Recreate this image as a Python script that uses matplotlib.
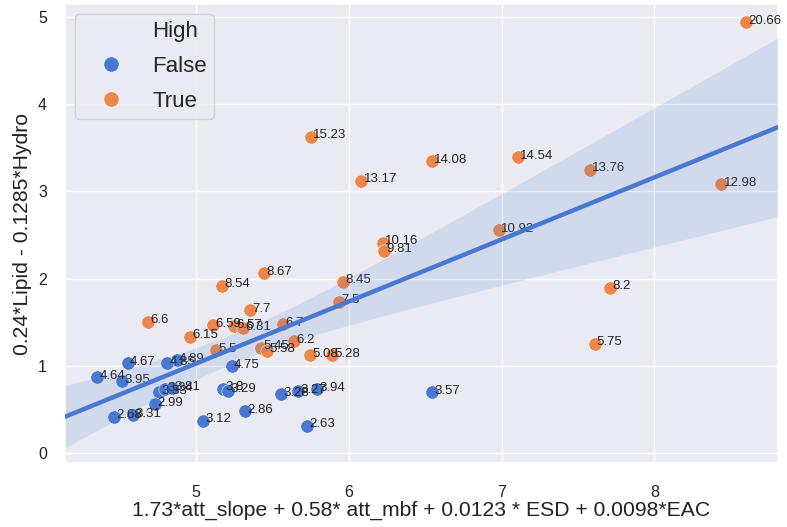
import numpy as np
import matplotlib
matplotlib.use("Agg")
import matplotlib.pyplot as plt
from matplotlib.lines import Line2D
import seaborn as sns

# Composite scores per sample, with the score value printed next to each point
x_true = [8.60, 5.75, 6.544, 7.107, 7.576, 8.438, 6.081, 6.982, 6.222, 6.231,
          7.709, 7.609, 5.443, 5.172, 5.354, 4.688, 5.109, 5.249, 5.310, 4.961,
          5.572, 5.961, 5.939, 5.129, 5.426, 5.463, 5.642, 5.747, 5.889]
y_true = [4.94, 3.63, 3.345, 3.394, 3.249, 3.081, 3.123, 2.557, 2.412, 2.320,
          1.896, 1.254, 2.060, 1.920, 1.640, 1.506, 1.468, 1.456, 1.430, 1.334,
          1.476, 1.965, 1.735, 1.181, 1.208, 1.173, 1.284, 1.124, 1.124]
lab_true = ["20.66", "15.23", "14.08", "14.54", "13.76", "12.98", "13.17", "10.92",
            "10.16", "9.81", "8.2", "5.75", "8.67", "8.54", "7.7", "6.6", "6.59",
            "6.57", "6.31", "6.15", "6.7", "8.45", "7.5", "5.5", "5.45", "5.58",
            "6.2", "5.08", "5.28"]

x_false = [6.546, 5.234, 4.553, 4.874, 4.812, 4.354, 4.517, 4.758, 4.797, 4.843,
           4.731, 4.465, 4.589, 5.048, 5.321, 5.175, 5.207, 5.557, 5.670, 5.790,
           5.725]
y_false = [0.700, 0.998, 1.028, 1.067, 1.028, 0.868, 0.826, 0.700, 0.734, 0.745,
           0.562, 0.416, 0.436, 0.370, 0.482, 0.737, 0.714, 0.673, 0.711, 0.734,
           0.313]
lab_false = ["3.57", "4.75", "4.67", "4.89", "4.85", "4.64", "3.95", "3.33", "3.34",
             "3.81", "2.99", "2.68", "3.31", "3.12", "2.86", "3.8", "3.29", "3.28",
             "3.27", "3.94", "2.63"]

x_label = "1.73*att_slope + 0.58* att_mbf + 0.0123 * ESD + 0.0098*EAC"
y_label = "0.24*Lipid - 0.1285*Hydro"
legend_title = "High"
legend_names = ["False", "True"]

sns.set_theme(style="darkgrid")
plt.rcParams["font.family"] = ["Liberation Sans", "DejaVu Sans"]

blue = "#4878d0"
orange = "#ee854a"

fig = plt.figure(figsize=(7.87, 5.27), dpi=100)
ax = fig.add_axes([0.0826, 0.1214, 0.906, 0.8710])

ax.scatter(x_false, y_false, s=92, color=blue, edgecolor="white", linewidth=0.4, zorder=2)
ax.scatter(x_true, y_true, s=92, color=orange, edgecolor="white", linewidth=0.4, zorder=2)

for xs, ys, labs in ((x_false, y_false, lab_false), (x_true, y_true, lab_true)):
    for xv, yv, t in zip(xs, ys, labs):
        ax.text(xv + 0.015, yv - 0.02, t, fontsize=9.5, color="#222222",
                ha="left", va="baseline", zorder=3)

xmin, xmax = 4.142, 8.81
ymin, ymax = -0.115, 5.15

# Least-squares fit over all samples, 95% band from a robust (HC3) covariance
xa = np.array(x_false + x_true)
ya = np.array(y_false + y_true)
X = np.column_stack([np.ones_like(xa), xa])
xtx_inv = np.linalg.inv(X.T @ X)
beta = xtx_inv @ X.T @ ya
resid = ya - X @ beta
lev = np.sum((X @ xtx_inv) * X, axis=1)
meat = X.T @ (X * (resid ** 2 / (1 - lev) ** 2)[:, None])
cov = xtx_inv @ meat @ xtx_inv

grid = np.linspace(xmin, xmax, 200)
G = np.column_stack([np.ones_like(grid), grid])
fit = G @ beta
half = 1.96 * np.sqrt(np.sum((G @ cov) * G, axis=1))
ax.fill_between(grid, fit - half, fit + half, color=blue, alpha=0.15,
                linewidth=0, zorder=4)
ax.plot(grid, fit, color=blue, linewidth=3.2, zorder=5)

ax.set_xlim(xmin, xmax)
ax.set_ylim(ymin, ymax)
ax.set_xticks([5, 6, 7, 8])
ax.set_yticks([0, 1, 2, 3, 4, 5])
ax.tick_params(axis="x", labelsize=11.5, colors="#222222", pad=10)
ax.tick_params(axis="y", labelsize=11.5, colors="#222222", pad=7)
ax.set_xlabel(x_label, fontsize=15.2, color="#222222", labelpad=0.5)
ax.set_ylabel(y_label, fontsize=15.2, color="#222222", labelpad=4)

# Hue title shown as the first legend row, without a marker
handles = [Line2D([], [], linestyle="", marker="")]
handles += [Line2D([], [], marker="o", linestyle="", markersize=11,
                   markerfacecolor=c, markeredgecolor="white", markeredgewidth=0.4)
            for c in (blue, orange)]
leg = ax.legend(handles, [legend_title] + legend_names, loc="upper left",
                fontsize=16, borderpad=0.32, handlelength=2.6, handletextpad=0.55,
                labelspacing=0.62, borderaxespad=0.45)
leg.set_zorder(6)

fig.savefig("out.png", dpi=100)
